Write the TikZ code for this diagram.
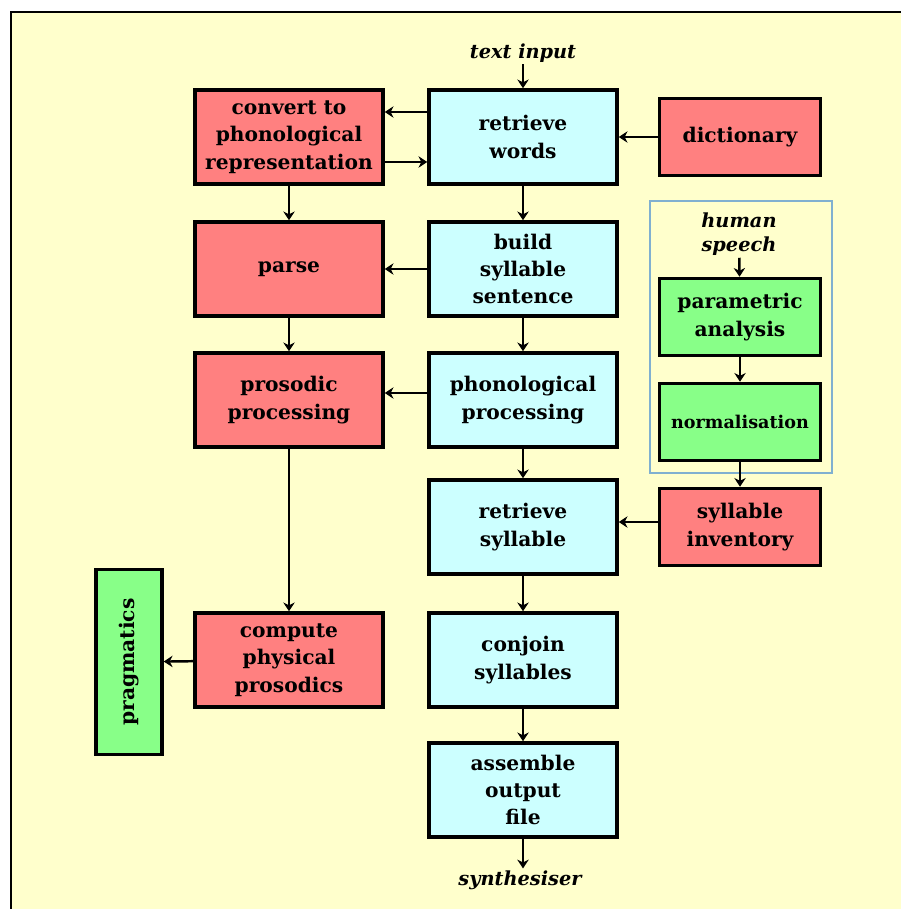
\documentclass[tikz,border=0pt]{standalone}
\usepackage{fontspec}
\setmainfont{DejaVu Serif}
\usetikzlibrary{arrows.meta}
\definecolor{bgyellow}{HTML}{FFFFCC}
\definecolor{stagered}{HTML}{FF8080}
\definecolor{stagecyan}{HTML}{CCFFFF}
\definecolor{stagegreen}{HTML}{88FF88}
\definecolor{groupblue}{HTML}{80B0D0}
\tikzset{
  stage/.style={draw=black, line width=2pt, align=center, inner sep=1pt,
    font=\fontsize{11.5}{15.5}\selectfont\bfseries},
  redbox/.style={stage, fill=stagered, minimum width=3.76cm, minimum height=1.88cm},
  cyanbox/.style={stage, fill=stagecyan, minimum width=3.76cm, minimum height=1.88cm},
  greenbox/.style={stage, fill=stagegreen, minimum width=3.22cm, minimum height=1.54cm},
  sidebox/.style={stage, fill=stagered, minimum width=3.22cm, minimum height=1.54cm},
  iolabel/.style={align=center, inner sep=1pt, font=\fontsize{11}{14}\selectfont\bfseries\itshape},
  arr/.style={line width=1.4pt, -{Stealth[length=5pt,width=6.5pt]}}
}
\begin{document}
\begin{tikzpicture}[x=0.02cm, y=-0.02cm]
			%%%%% BACKGROUND %%%%%
			\useasboundingbox (0,0) rectangle (901,909);
			\fill[bgyellow] (11,12) rectangle (901,909);
			\draw[line width=0.6pt] (11,909) -- (11,12) -- (901,12);
			
			%%%%% MIDDLE COLUMN %%%%%
			\node[iolabel] (input) at (523,53) {text input};
			\node[cyanbox] (words) at (523,137) {retrieve\\words};
			\node[cyanbox] (build) at (523,269) {build\\syllable\\sentence};
			\node[cyanbox] (phono) at (523,400) {phonological\\processing};
			\node[cyanbox] (retsyl) at (523,527) {retrieve\\syllable};
			\node[cyanbox] (conjoin) at (523,660) {conjoin\\syllables};
			\node[cyanbox] (assemble) at (523,790) {assemble\\output\\file};
			\node[iolabel] (synth) at (520,880) {synthesiser};
			
			%%%%% LEFT COLUMN %%%%%
			\node[redbox] (convert) at (289,137) {convert to\\phonological\\representation};
			\node[redbox] (parse) at (289,269) {parse};
			\node[redbox] (prosodic) at (289,400) {prosodic\\processing};
			\node[redbox] (compute) at (289,660) {compute\\physical\\prosodics};
			\node[stage, fill=stagegreen, minimum width=1.32cm, minimum height=3.7cm] (prag) at (129,662) {};
			\node[rotate=90, font=\fontsize{11.5}{15.5}\selectfont\bfseries] (praglabel) at (prag) {pragmatics};
			
			%%%%% RIGHT COLUMN %%%%%
			\node[draw=groupblue, line width=0.7pt, minimum width=3.64cm, minimum height=5.44cm] (group) at (741,337) {};
			\node[sidebox] (dict) at (740,137) {dictionary};
			\node[iolabel] (speech) at (739,234) {human\\speech};
			\node[greenbox] (param) at (740,317) {parametric\\analysis};
			\node[greenbox, font=\fontsize{10}{14}\selectfont\bfseries] (norm) at (740,422) {normalisation};
			\node[sidebox] (inv) at (740,527) {syllable\\inventory};
			
			%%%%% CONNECTORS %%%%%
			\draw[arr] (input) -- (words);
			\draw[arr] ([yshift=0.5cm]words.west) -- ([yshift=0.5cm]convert.east);
			\draw[arr] ([yshift=-0.5cm]convert.east) -- ([yshift=-0.5cm]words.west);
			\draw[arr] (dict) -- (words);
			\draw[arr] (words) -- (build);
			\draw[arr] (build) -- (phono);
			\draw[arr] (phono) -- (retsyl);
			\draw[arr] (retsyl) -- (conjoin);
			\draw[arr] (conjoin) -- (assemble);
			\draw[arr] (assemble) -- (assemble |- synth.north);
			
			\draw[arr] (convert) -- (parse);
			\draw[arr] (build) -- (parse);
			\draw[arr] (parse) -- (prosodic);
			\draw[arr] ([yshift=0.14cm]phono.west) -- ([yshift=0.14cm]prosodic.east);
			\draw[arr] (prosodic) -- (compute);
			\draw[arr] (compute) -- (prag);
			
			\draw[arr] (speech) -- (param);
			\draw[arr] (param) -- (norm);
			\draw[arr] (norm) -- (inv);
			\draw[arr] ([yshift=0.1cm]inv.west) -- ([yshift=0.1cm]retsyl.east);
			
			%%%%% END %%%%%
		\end{tikzpicture}
\end{document}
